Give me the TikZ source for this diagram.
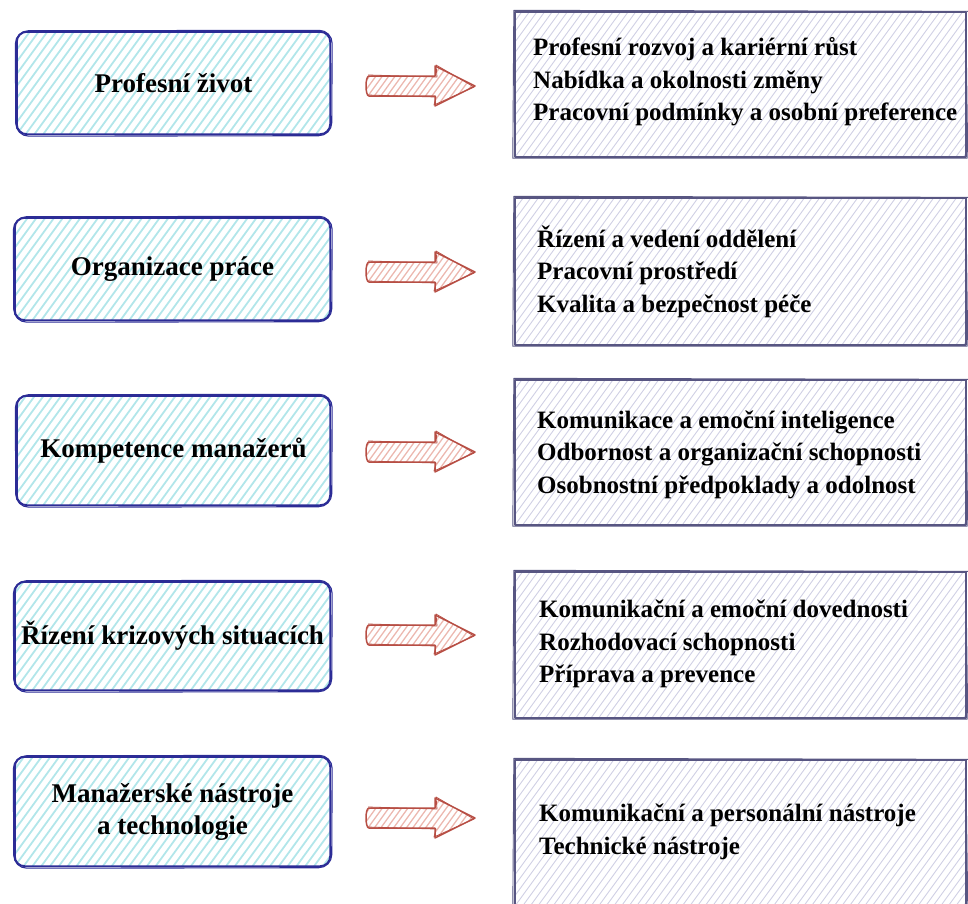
\documentclass[tikz,border=0pt]{standalone}
\usepackage{fontspec}
\setmainfont{Liberation Serif}

\definecolor{lborder}{RGB}{44,44,150}
\definecolor{lhatch}{RGB}{178,230,234}
\definecolor{rborder}{RGB}{88,86,130}
\definecolor{rhatch}{RGB}{208,208,228}
\definecolor{aborder}{RGB}{183,78,68}
\definecolor{ahatch}{RGB}{236,184,176}

\tikzset{
  hatched/.style n args={3}{path picture={
    \foreach \k in {-200,-192,...,520}{
      \draw[#1, line width=#2] ([xshift=\k*#3 pt]path picture bounding box.south west) -- ++(160pt,220pt);}
  }},
  lbox/.style={rounded corners=10pt, hatched={lhatch}{1.8pt}{1.1},
    font=\fontsize{27}{32}\selectfont\bfseries, align=center, inner sep=0pt},
  rbox/.style={hatched={rhatch}{0.9pt}{0.95}},
  rtext/.style={anchor=west, align=left, inner sep=0pt,
    font=\fontsize{25}{32.5}\selectfont\bfseries},
  lline/.style={draw=lborder, line width=1.9pt, line join=round},
  rline/.style={draw=rborder, line width=1.6pt, line join=round},
  aline/.style={draw=aborder, line width=1.5pt, line join=round},
}

% hand-drawn double stroke around a rounded box
\newcommand\roughround[1]{%
  \draw[lline, rounded corners=10pt] (#1.north west) -- (#1.north east)
    -- (#1.south east) -- (#1.south west) -- cycle;
  \draw[lline, line width=1.1pt, rounded corners=13pt]
    ([shift={(-1.5pt,1pt)}]#1.north west) -- ([shift={(2pt,1.5pt)}]#1.north east)
    -- ([shift={(1.5pt,-1.5pt)}]#1.south east) -- ([shift={(-1pt,-2pt)}]#1.south west) -- cycle;}

% hand-drawn double stroke around a square box
\newcommand\roughrect[1]{%
  \draw[rline] (#1.north west) -- (#1.north east) -- (#1.south east)
    -- (#1.south west) -- cycle;
  \draw[rline, line width=0.9pt]
    ([shift={(-1pt,1.5pt)}]#1.north west) -- ([shift={(3pt,0.5pt)}]#1.north east)
    -- ([shift={(1pt,-1pt)}]#1.south east) -- ([shift={(-2pt,-1pt)}]#1.south west) -- cycle;}

% block arrow centred on height #1
\newcommand\blockarrow[1]{%
  \path[hatched={ahatch}{1.3pt}{0.8}] (367,#1-10) -- (435,#1-10) -- (435,#1-20)
    -- (475,#1) -- (435,#1+20) -- (435,#1+10) -- (367,#1+10) -- cycle;
  \draw[aline] (369,#1-10) -- (435,#1-10) -- (435,#1-20)
    -- (475,#1) -- (435,#1+20) -- (435,#1+10) -- (369,#1+10)
    .. controls (365,#1+10) and (365,#1-10) .. (369,#1-10) -- cycle;
  \draw[aline, line width=0.8pt] (368,#1-11) -- (437,#1-9) -- (436,#1-21)
    -- (474,#1+1) -- (434,#1+19) -- (436,#1+11) -- (367,#1+9);}

\begin{document}
\begin{tikzpicture}[x=1pt,y=-1pt]
\useasboundingbox (0,0) rectangle (968,903);

% left column
\node[lbox, minimum width=313pt, minimum height=102pt] (L1) at (173.5,83) {Profesní život};
\node[lbox, minimum width=315pt, minimum height=102pt] (L2) at (172.5,269) {Organizace práce};
\node[lbox, minimum width=313pt, minimum height=109pt] (L3) at (173.5,450.5) {Kompetence manažerů};
\node[lbox, minimum width=315pt, minimum height=108pt] (L4) at (172.5,636) {Řízení krizových situacích};
\node[lbox, minimum width=315pt, minimum height=109pt] (L5) at (172.5,811.5) {Manažerské nástroje\\[0pt]a technologie};
\foreach \n in {L1,L2,L3,L4,L5}{\roughround{\n}}

% right column
\node[rbox, minimum width=451pt, minimum height=145pt] (R1) at (740.5,84.5) {};
\node[rbox, minimum width=451pt, minimum height=147pt] (R2) at (740.5,271.5) {};
\node[rbox, minimum width=451pt, minimum height=145pt] (R3) at (740.5,452.5) {};
\node[rbox, minimum width=451pt, minimum height=146pt] (R4) at (740.5,645) {};
\node[rbox, minimum width=451pt, minimum height=146pt] (R5) at (740.5,833) {};
\foreach \n in {R1,R2,R3,R4,R5}{\roughrect{\n}}

\node[rtext] (T1) at (533,82) {Profesní rozvoj a kariérní růst\\Nabídka a okolnosti změny\\Pracovní podmínky a osobní preference};
\node[rtext] (T2) at (537,271.5) {Řízení a vedení oddělení\\Pracovní prostředí\\Kvalita a bezpečnost péče};
\node[rtext] (T3) at (537,454.5) {Komunikace a emoční inteligence\\Odbornost a organizační schopnosti\\Osobnostní předpoklady a odolnost};
\node[rtext] (T4) at (539,644) {Komunikační a emoční dovednosti\\Rozhodovací schopnosti\\Příprava a prevence};
\node[rtext] (T5) at (539,832) {Komunikační a personální nástroje\\Technické nástroje};

% arrows between the columns
\blockarrow{86}
\blockarrow{272}
\blockarrow{452}
\blockarrow{635}
\blockarrow{818}
\end{tikzpicture}
\end{document}
